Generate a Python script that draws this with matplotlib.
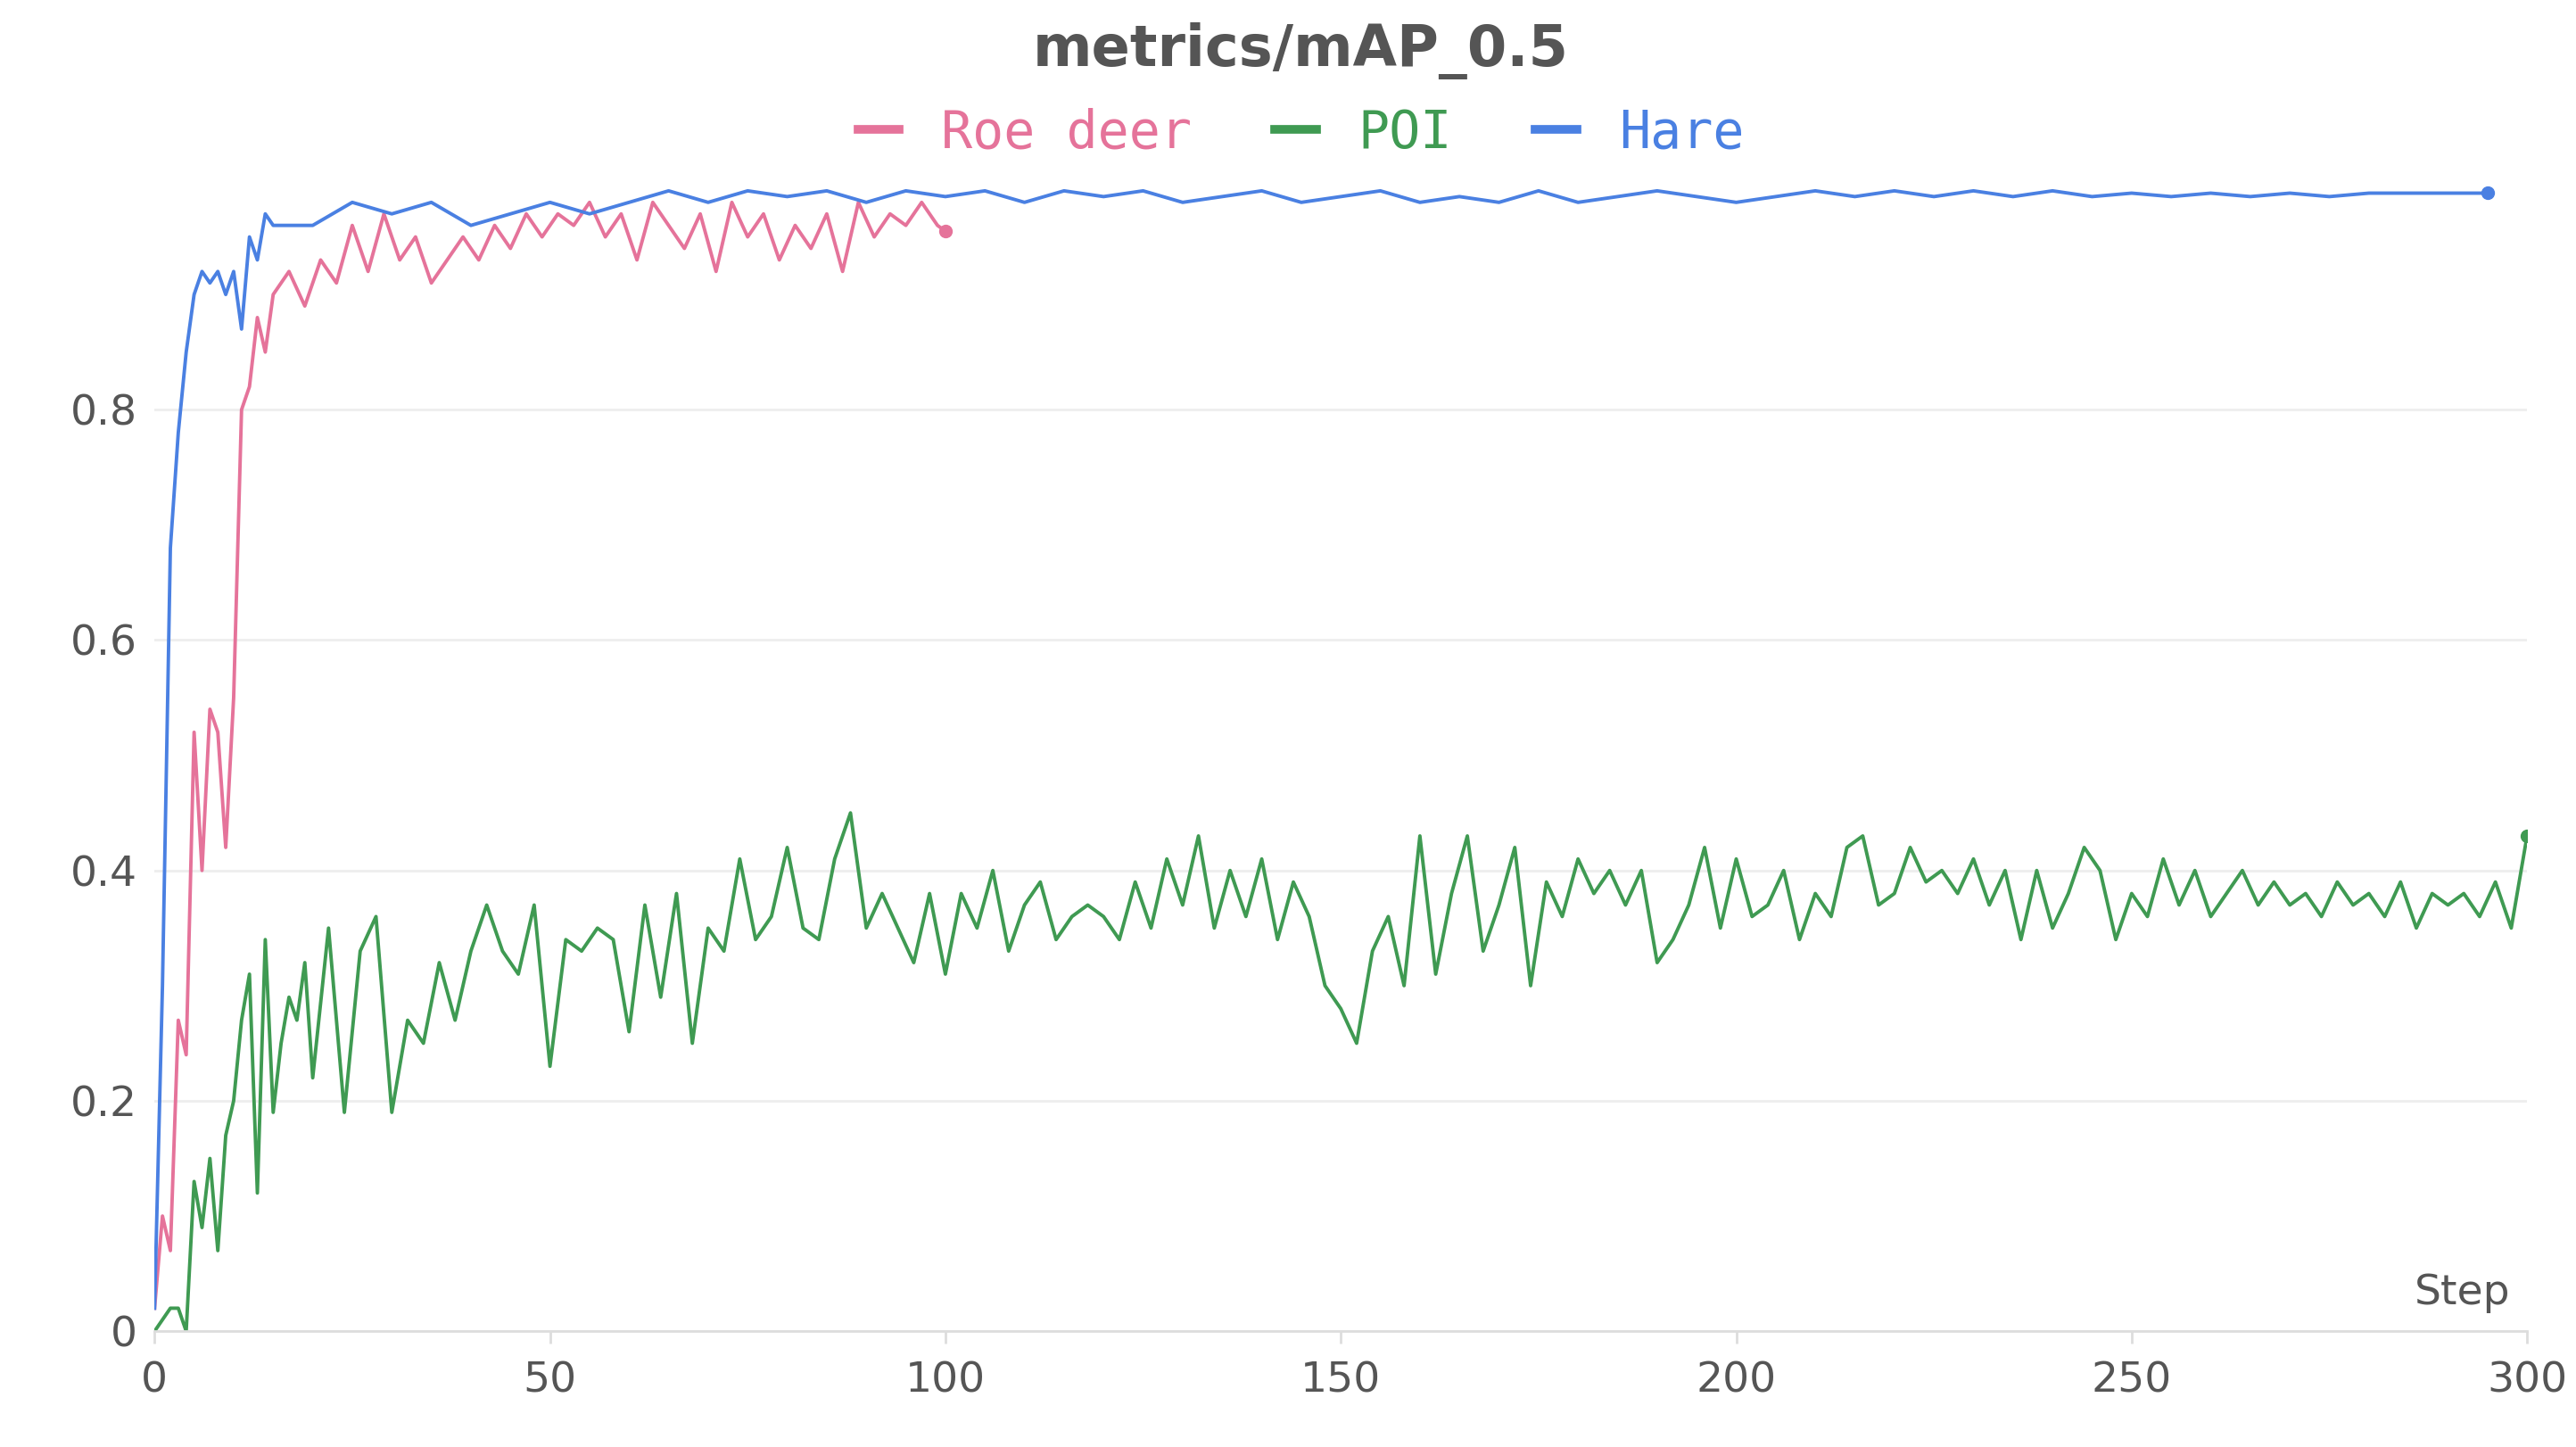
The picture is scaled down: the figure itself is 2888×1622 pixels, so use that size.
import numpy as np
import matplotlib.pyplot as plt

# ---- data ----
roe_x = list(range(0, 16)) + list(range(17, 100, 2)) + [100]
roe_y = [0.02, 0.10, 0.07, 0.27, 0.24, 0.52, 0.40, 0.54, 0.52, 0.42, 0.55, 0.80, 0.82, 0.88, 0.85, 0.90,
         0.92, 0.89, 0.93, 0.91, 0.96, 0.92, 0.97, 0.93, 0.95, 0.91, 0.93, 0.95, 0.93, 0.96, 0.94, 0.97,
         0.95, 0.97, 0.96, 0.98, 0.95, 0.97, 0.93, 0.98, 0.96, 0.94, 0.97, 0.92, 0.98, 0.95, 0.97, 0.93,
         0.96, 0.94, 0.97, 0.92, 0.98, 0.95, 0.97, 0.96, 0.98, 0.96, 0.955]
poi_x = list(range(0, 21)) + list(range(22, 301, 2))
poi_y = [0.0, 0.01, 0.02, 0.02, 0.0, 0.13, 0.09, 0.15, 0.07, 0.17, 0.20, 0.27, 0.31, 0.12, 0.34, 0.19,
         0.25, 0.29, 0.27, 0.32, 0.22,
         0.35, 0.19, 0.33, 0.36, 0.19, 0.27, 0.25, 0.32, 0.27, 0.33, 0.37, 0.33, 0.31, 0.37, 0.23, 0.34,
         0.33, 0.35, 0.34, 0.26, 0.37, 0.29, 0.38, 0.25, 0.35, 0.33, 0.41, 0.34, 0.36, 0.42, 0.35, 0.34,
         0.41, 0.45, 0.35, 0.38, 0.35, 0.32, 0.38, 0.31, 0.38, 0.35, 0.40, 0.33, 0.37, 0.39, 0.34, 0.36,
         0.37, 0.36, 0.34, 0.39, 0.35, 0.41, 0.37, 0.43, 0.35, 0.40, 0.36, 0.41, 0.34, 0.39, 0.36, 0.30,
         0.28, 0.25, 0.33, 0.36, 0.30, 0.43, 0.31, 0.38, 0.43, 0.33, 0.37, 0.42, 0.30, 0.39, 0.36, 0.41,
         0.38, 0.40, 0.37, 0.40, 0.32, 0.34, 0.37, 0.42, 0.35, 0.41, 0.36, 0.37, 0.40, 0.34, 0.38, 0.36,
         0.42, 0.43, 0.37, 0.38, 0.42, 0.39, 0.40, 0.38, 0.41, 0.37, 0.40, 0.34, 0.40, 0.35, 0.38, 0.42,
         0.40, 0.34, 0.38, 0.36, 0.41, 0.37, 0.40, 0.36, 0.38, 0.40, 0.37, 0.39, 0.37, 0.38, 0.36, 0.39,
         0.37, 0.38, 0.36, 0.39, 0.35, 0.38, 0.37, 0.38, 0.36, 0.39, 0.35, 0.43]
hare_x = list(range(0, 16)) + list(range(20, 291, 5)) + [295]
hare_y = [0.02, 0.30, 0.68, 0.78, 0.85, 0.90, 0.92, 0.91, 0.92, 0.90, 0.92, 0.87, 0.95, 0.93, 0.97, 0.96,
          0.96, 0.98, 0.97, 0.98, 0.96, 0.97, 0.98, 0.97, 0.98, 0.99, 0.98, 0.99, 0.985, 0.99, 0.98, 0.99,
          0.985, 0.99, 0.98, 0.99, 0.985, 0.99, 0.98, 0.985, 0.99, 0.98, 0.985, 0.99, 0.98, 0.985, 0.98,
          0.99, 0.98, 0.985, 0.99, 0.985, 0.98, 0.985, 0.99, 0.985, 0.99, 0.985, 0.99, 0.985, 0.99, 0.985,
          0.988, 0.985, 0.988, 0.985, 0.988, 0.985, 0.988, 0.988, 0.988, 0.988]
yticks = [0, 0.2, 0.4, 0.6, 0.8]
ytick_labels = ["0", "0.2", "0.4", "0.6", "0.8"]
xticks = [0, 50, 100, 150, 200, 250, 300]

series = [("Roe deer", roe_x, roe_y, "#e5739a"),
          ("POI", poi_x, poi_y, "#3f9a52"),
          ("Hare", hare_x, hare_y, "#4a80e2")]

fig = plt.figure(figsize=(28.88, 16.22), dpi=100)
ax = fig.add_axes([0.06, 0.08, 0.921, 0.812])
for name, xs, ys, c in series:
    ax.plot(xs, ys, color=c, lw=2.8, label=name)
    ax.plot([xs[-1]], [ys[-1]], "o", color=c, ms=10)

ax.set_xlim(0, 300)
ax.set_ylim(0, 1.02)
ax.set_yticks(yticks)
ax.set_yticklabels(ytick_labels)
ax.set_xticks(xticks)
ax.grid(axis="y", color="#eeeeee", lw=2)
ax.set_axisbelow(True)
for s in ["top", "right", "left"]:
    ax.spines[s].set_visible(False)
ax.spines["bottom"].set_color("#dddddd")
ax.spines["bottom"].set_linewidth(2)
ax.tick_params(axis="both", colors="#555555", labelsize=34, length=0, pad=14)
ax.tick_params(axis="x", length=10, color="#dddddd", width=2)
ax.text(0.993, 0.015, "Step", transform=ax.transAxes, ha="right", va="bottom",
        fontsize=34, color="#555555")
fig.text(0.505, 0.965, "metrics/mAP_0.5", ha="center", va="center",
         fontsize=46, fontweight="bold", color="#555555")
leg = fig.legend(loc="center", bbox_to_anchor=(0.505, 0.908), ncol=3, frameon=False,
                 labelcolor="linecolor", handlelength=0.8, columnspacing=1.6,
                 prop={"family": "DejaVu Sans Mono", "size": 42})
for l in leg.get_lines():
    l.set_linewidth(7)
fig.savefig("out.png", dpi=100, facecolor="white")
